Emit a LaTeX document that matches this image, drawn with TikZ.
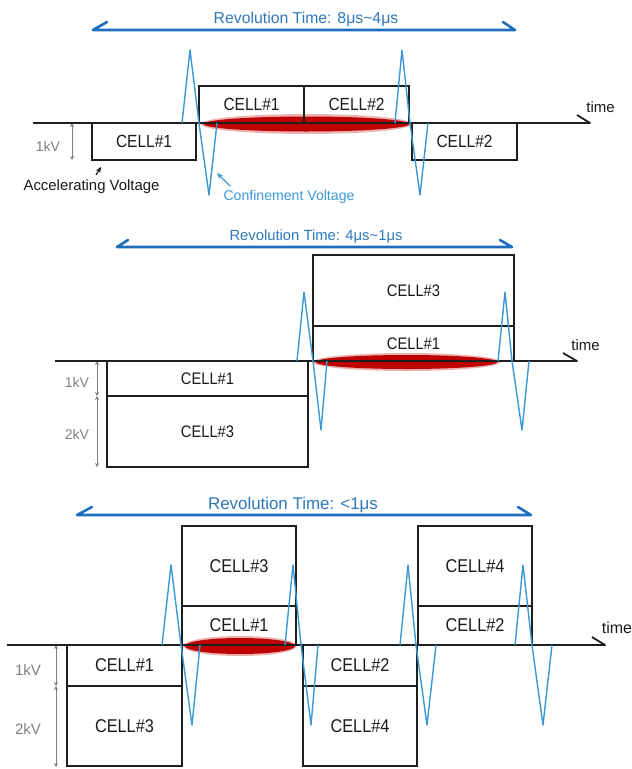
\documentclass[tikz,border=0pt]{standalone}
\usepackage{fontspec}
\setmainfont{Liberation Sans}
\newfontfamily\cellfamily[FakeStretch=0.88]{Liberation Sans}
\usetikzlibrary{arrows.meta,calc}
\definecolor{boxink}{HTML}{1E1E1E}
\definecolor{textink}{HTML}{1A1A1A}
\definecolor{spanblue}{HTML}{1F6EBE}
\definecolor{titleblue}{HTML}{2E78BA}
\definecolor{pulseblue}{HTML}{3A98D6}
\definecolor{bunchred}{HTML}{BE0000}
\definecolor{dimgray}{HTML}{808080}

\begin{document}
\begin{tikzpicture}[
    x=1pt, y=-1pt,
    cellbox/.style n args={2}{rectangle, draw=boxink, line width=1.7pt, minimum width=#1pt, minimum height=#2pt, inner sep=0pt},
    cellfont/.style={font=\cellfamily\fontsize{#1}{#1}\selectfont, text=textink},
    title/.style={inner sep=0pt, text=titleblue, font=\fontsize{#1}{#1}\selectfont},
    span/.style={line width=2.6pt, color=spanblue, line cap=round, line join=round},
    axis/.style={line width=1.8pt, color=boxink, line join=round},
    timelbl/.style={inner sep=0pt, text=textink, font=\fontsize{15}{15}\selectfont},
    pulse/.style={line width=1.4pt, color=pulseblue, line join=round},
    bunch/.style={fill=bunchred},
    bunchglow/.style={fill=bunchred, opacity=0.3},
    dim/.style={{Stealth[length=4pt,width=4pt]}-{Stealth[length=4pt,width=4pt]}, line width=0.8pt, color=dimgray},
    kvlbl/.style={inner sep=0pt, text=dimgray, font=\fontsize{#1}{#1}\selectfont},
    note/.style={-{Stealth[length=6pt,width=5pt]}, line width=1.2pt}
]
    \useasboundingbox (0,0) rectangle (632,769);

    % --- PANEL 1: 8us ~ 4us ---
    \fill[bunchglow] (306.5,124) ellipse [x radius=106, y radius=10];
    \fill[bunch] (306.5,124) ellipse [x radius=103, y radius=7.5];

    \node[cellbox={104}{37}, cellfont=17.6] (c1lo) at (144,141.5) {CELL\#1};
    \node[cellbox={105}{37}, cellfont=17.6] (c1up) at (251.5,104.5) {CELL\#1};
    \node[cellbox={105}{37}, cellfont=17.6] (c2up) at (356.5,104.5) {CELL\#2};
    \node[cellbox={105}{37}, cellfont=17.6] (c2lo) at (464.5,141.5) {CELL\#2};

    \coordinate (a1s) at (33,123);
    \coordinate (a1e) at (590,123);
    \draw[axis] (a1s) -- (a1e) -- ++(-13,-8);
    \node[timelbl] (time1) at (600.5,107) {time};

    \draw[pulse] (182,123) -- (190,50) -- (199,123) -- (209,195) -- (217,123);
    \draw[pulse] (395,123) -- (402,50) -- (410,123) -- (420,195) -- (428,123);

    \node[title=15.8] (rev1) at (306,19) {Revolution Time: 8μs\textasciitilde4μs};
    \coordinate (s1l) at (93,30);
    \coordinate (s1r) at (515,30);
    \draw[span] ($(s1l)+(14,-8)$) -- (s1l) -- (s1r) -- ($(s1r)+(-12,-8)$);

    \coordinate (d1t) at (72,123);
    \coordinate (d1b) at (72,160);
    \draw[dim] (d1t) -- (d1b);
    \node[kvlbl=14] (kv1) at (48,146) {1kV};

    \node[inner sep=0pt, text=textink, font=\fontsize{14.9}{15}\selectfont] (acc) at (91.5,187) {Accelerating Voltage};
    \draw[note, color=textink] ($(acc.north)+(4.5,-5)$) -- ($(c1lo.south west)+(10,6)$);

    \node[inner sep=0pt, text=pulseblue, font=\fontsize{14.1}{15}\selectfont] (conf) at (289,197) {Confinement Voltage};
    \coordinate (confTip) at (217,173);
    \draw[note, color=pulseblue] ($(conf.north west)+(7,-4)$) -- (confTip);

    % --- PANEL 2: 4us ~ 1us ---
    \fill[bunchglow] (406.5,362) ellipse [x radius=94, y radius=9];
    \fill[bunch] (406.5,362) ellipse [x radius=91, y radius=7];

    \node[cellbox={201}{35}, cellfont=16.7] (m1lo) at (207.5,378.5) {CELL\#1};
    \node[cellbox={201}{71}, cellfont=16.7] (m3lo) at (207.5,431.5) {CELL\#3};
    \node[cellbox={201}{35}, cellfont=16.7] (m1up) at (413.5,343.5) {CELL\#1};
    \node[cellbox={201}{71}, cellfont=16.7] (m3up) at (413.5,290.5) {CELL\#3};

    \coordinate (a2s) at (55,361);
    \coordinate (a2e) at (577,361);
    \draw[axis] (a2s) -- (a2e) -- ++(-14,-8);
    \node[timelbl] (time2) at (585.5,345) {time};

    \draw[pulse] (297,361) -- (304,292) -- (313,361) -- (321,430) -- (327,361);
    \draw[pulse] (498,361) -- (505,292) -- (512,361) -- (522,430) -- (529,361);

    \node[title=14.8] (rev2) at (316,237) {Revolution Time: 4μs\textasciitilde1μs};
    \coordinate (s2l) at (117,247);
    \coordinate (s2r) at (512,247);
    \draw[span] ($(s2l)+(11,-7)$) -- (s2l) -- (s2r) -- ($(s2r)+(-12,-7)$);

    \coordinate (d2t) at (97,361);
    \coordinate (d2m) at (97,396);
    \coordinate (d2b) at (97,467);
    \draw[dim] (d2t) -- (d2m);
    \draw[dim] (d2m) -- (d2b);
    \node[kvlbl=14] (kv2a) at (77,382.5) {1kV};
    \node[kvlbl=14] (kv2b) at (77,434) {2kV};

    % --- PANEL 3: < 1us ---
    \fill[bunchglow] (240,646) ellipse [x radius=57, y radius=10];
    \fill[bunch] (240,646) ellipse [x radius=55, y radius=8];

    \node[cellbox={115}{41}, cellfont=18.5] (f1lo) at (124.5,665.5) {CELL\#1};
    \node[cellbox={115}{80}, cellfont=18.5] (f3lo) at (124.5,726) {CELL\#3};
    \node[cellbox={114}{39}, cellfont=18.5] (f1up) at (239,625.5) {CELL\#1};
    \node[cellbox={114}{80}, cellfont=18.5] (f3up) at (239,566) {CELL\#3};
    \node[cellbox={114}{41}, cellfont=18.5] (f2lo) at (360,665.5) {CELL\#2};
    \node[cellbox={114}{80}, cellfont=18.5] (f4lo) at (360,726) {CELL\#4};
    \node[cellbox={114}{39}, cellfont=18.5] (f2up) at (475,625.5) {CELL\#2};
    \node[cellbox={114}{80}, cellfont=18.5] (f4up) at (475,566) {CELL\#4};

    \coordinate (a3s) at (7,645);
    \coordinate (a3e) at (605,645);
    \draw[axis] (a3s) -- (a3e) -- ++(-13,-8);
    \node[timelbl, font=\fontsize{16}{16}\selectfont] (time3) at (617,628) {time};

    \draw[pulse] (162,645) -- (171,565) -- (181,645) -- (192,725) -- (200,645);
    \draw[pulse] (285,645) -- (293,565) -- (301,645) -- (311,725) -- (318,645);
    \draw[pulse] (400,645) -- (408,565) -- (416,645) -- (427,725) -- (436,645);
    \draw[pulse] (515,645) -- (523,565) -- (532,645) -- (543,725) -- (552,645);

    \node[title=16.9] (rev3) at (293,505) {Revolution Time: <1μs};
    \coordinate (s3l) at (77,515);
    \coordinate (s3r) at (531,515);
    \draw[span] ($(s3l)+(15,-8)$) -- (s3l) -- (s3r) -- ($(s3r)+(-13,-8)$);

    \coordinate (d3t) at (56,645);
    \coordinate (d3m) at (56,686);
    \coordinate (d3b) at (56,767);
    \draw[dim] (d3t) -- (d3m);
    \draw[dim] (d3m) -- (d3b);
    \node[kvlbl=15] (kv3a) at (28,670) {1kV};
    \node[kvlbl=15] (kv3b) at (28,729) {2kV};
\end{tikzpicture}
\end{document}
